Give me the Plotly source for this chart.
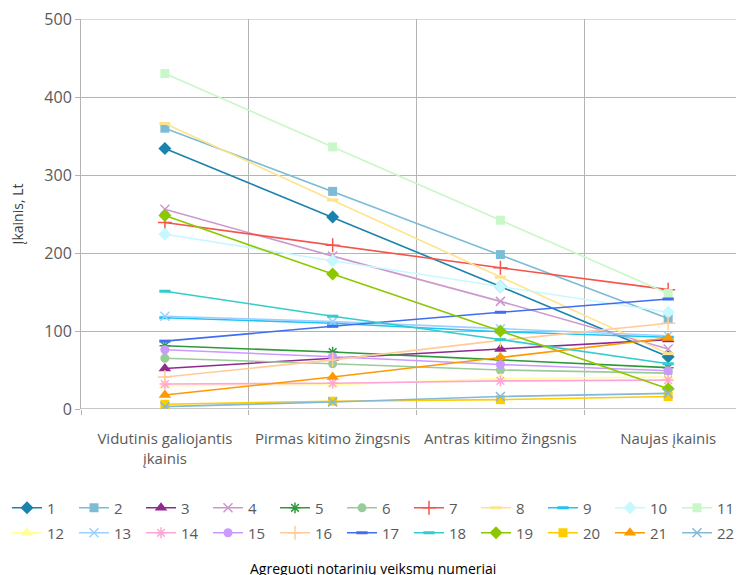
import plotly.graph_objects as go

categories = ["Vidutinis galiojantis<br>įkainis", "Pirmas kitimo žingsnis",
              "Antras kitimo žingsnis", "Naujas įkainis"]

s1 = [334, 246, 157, 67]
s2 = [360, 279, 198, 116]
s3 = [52, 65, 77, 89]
s4 = [256, 196, 138, 77]
s5 = [81, 73, 63, 53]
s6 = [65, 58, 50, 46]
s7 = [239, 210, 181, 153]
s8 = [366, 268, 169, 71]
s9 = [117, 110, 99, 92]
s10 = [224, 190, 157, 124]
s11 = [430, 336, 242, 148]
s12 = [30, 31, 39, 41]
s13 = [119, 112, 103, 94]
s14 = [32, 33, 36, 37]
s15 = [76, 67, 57, 49]
s16 = [41, 63, 88, 110]
s17 = [87, 106, 124, 141]
s18 = [151, 119, 89, 58]
s19 = [248, 173, 100, 26]
s20 = [6, 10, 12, 16]
s21 = [18, 41, 66, 91]
s22 = [3, 9, 16, 20]

series_names = [str(i) for i in range(1, 23)]
series_values = [s1, s2, s3, s4, s5, s6, s7, s8, s9, s10, s11,
                 s12, s13, s14, s15, s16, s17, s18, s19, s20, s21, s22]

colors = ["#1a82ad", "#7dbcd6", "#8e2a8e", "#cc99cc", "#2e9a3a", "#99cc99",
          "#f4544a", "#ffe38a", "#1ec4f4", "#c8f8ff", "#c8f7c8",
          "#ffff99", "#9dd0ff", "#ffa6d6", "#cc99ff", "#ffcc99", "#3f6ef0",
          "#33cccc", "#8cc800", "#ffcc00", "#ff9900", "#84b8d6"]
symbols = ["diamond", "square", "triangle-up", "x-thin-open", "asterisk-open",
           "circle", "cross-thin-open", "line-ew-open", "line-ew-open", "diamond",
           "square", "triangle-up", "x-thin-open", "asterisk-open", "circle",
           "cross-thin-open", "line-ew-open", "line-ew-open", "diamond", "square",
           "triangle-up", "x-thin-open"]
sizes = {"diamond": 10, "square": 9, "triangle-up": 11, "x-thin-open": 9,
         "asterisk-open": 9, "circle": 9, "cross-thin-open": 10, "line-ew-open": 8}

xpos = list(range(len(categories)))

fig = go.Figure()
for i, (name, vals) in enumerate(zip(series_names, series_values)):
    sym = symbols[i]
    open_sym = sym.endswith("open")
    lw = 3 if sym == "line-ew-open" else 1.5
    fig.add_trace(go.Scatter(
        x=xpos, y=vals, name=name, mode="lines+markers",
        line=dict(color=colors[i], width=1.6),
        marker=dict(symbol=sym, size=sizes[sym], color=colors[i],
                    line=dict(color=colors[i], width=lw if open_sym else 0)),
        legend="legend" if i < 11 else "legend2",
    ))

grid = "#b4b4b4"
tick_font = dict(family="Open Sans", size=15, color="#5a5a5a")
leg_font = dict(family="Open Sans", size=15, color="#5a5a5a")

fig.update_layout(
    width=736, height=567,
    margin=dict(l=72, r=0, t=11, b=166),
    paper_bgcolor="white", plot_bgcolor="white",
    showlegend=True,
    xaxis=dict(
        range=[-0.5, 3.452], tickmode="array", tickvals=xpos, ticktext=categories,
        showgrid=False, ticks="", zeroline=False, automargin=False,
        showline=False, tickfont=tick_font, ticklabelstandoff=19,
        minor=dict(tick0=0.5, dtick=1, showgrid=True, gridcolor=grid, gridwidth=1,
                   ticks="outside", ticklen=5, tickcolor=grid),
    ),
    yaxis=dict(
        range=[0, 500], tickmode="array", tickvals=[0, 100, 200, 300, 400, 500],
        showgrid=True, gridcolor=grid, gridwidth=1, zeroline=False,
        showline=True, linecolor=grid, linewidth=1, automargin=False,
        ticklabeloverflow="allow",
        ticks="outside", ticklen=5, tickcolor=grid,
        tickfont=dict(family="Open Sans", size=16, color="#5a5a5a"),
        title=dict(text="Įkainis, Lt", standoff=42,
                   font=dict(family="Open Sans", size=14, color="#404040")),
    ),
    legend=dict(orientation="h", x=-0.11, xanchor="left", y=-0.254, yanchor="middle",
                entrywidth=22, font=leg_font,
                tracegroupgap=0, bgcolor="rgba(0,0,0,0)"),
    legend2=dict(orientation="h", x=-0.11, xanchor="left", y=-0.318, yanchor="middle",
                 entrywidth=22, font=leg_font,
                 tracegroupgap=0, bgcolor="rgba(0,0,0,0)"),
    annotations=[dict(text="Agreguoti notarinių veiksmų numeriai", xref="paper", yref="paper",
                      x=0.44, y=-0.41, xanchor="center", yanchor="middle", showarrow=False,
                      font=dict(family="Open Sans", size=14, color="#000000"))],
)

# x axis base line and top gridline
fig.add_shape(type="line", xref="paper", yref="y", x0=0, x1=1, y0=0, y1=0,
              line=dict(color=grid, width=1.5), layer="below")
fig.add_shape(type="line", xref="paper", yref="y", x0=0, x1=1, y0=500, y1=500,
              line=dict(color=grid, width=1), layer="below")

fig.write_html("out.html")
